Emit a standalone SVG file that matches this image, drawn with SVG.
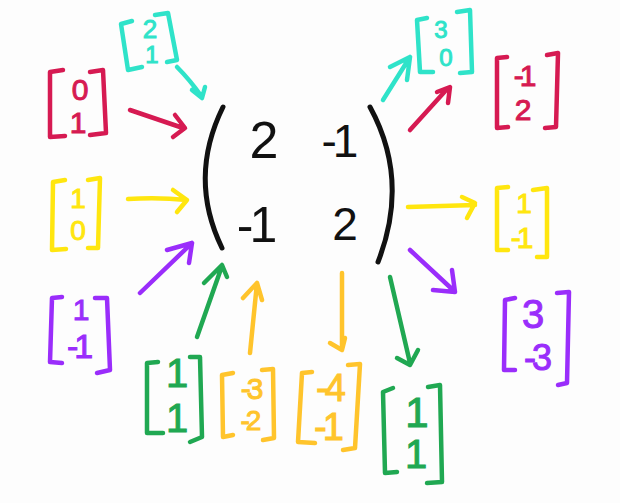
<svg xmlns="http://www.w3.org/2000/svg" width="620" height="503" viewBox="0 0 620 503">
<style>
path{fill:none;stroke-linecap:round;stroke-linejoin:round;stroke-width:4.5}
text{font-family:"Liberation Sans",Arial,sans-serif;text-anchor:middle;stroke:none}
.k path{stroke:#111;stroke-width:5}
.k text{fill:#111}
.cy{stroke:#2fe3c9}
.rd{stroke:#d61a52}
.ye{stroke:#ffe60f}
.pu{stroke:#9a2dfb}
.gr{stroke:#20a852}
.or{stroke:#ffc42c}
text.cy{fill:#2fe3c9}
text.rd{fill:#d61a52}
text.ye{fill:#ffe60f}
text.pu{fill:#9a2dfb}
text.gr{fill:#20a852}
text.or{fill:#ffc42c}
.neg{letter-spacing:-4px}
</style>
<rect width="620" height="503" fill="#fdfdfd"/>
<g id="matrix" class="k">
<path d="M223,107 Q188,178 222,248"/>
<path d="M370,107 Q410,180 378,262"/>
<text x="264" y="158" font-size="52">2</text>
<text x="338" y="157" font-size="46" class="neg">-1</text>
<text x="255" y="242" font-size="50" class="neg">-1</text>
<text x="345" y="240" font-size="46">2</text>
</g>
<g id="v-cyan-in">
<path class="cy" d="M132,21 L121,24 L128,70 L142,67"/>
<path class="cy" d="M155,15 L168,13 L177,60 L167,62"/>
<text class="cy" x="150" y="38" font-size="26">2</text>
<text class="cy" x="152" y="63" font-size="24">1</text>
</g>
<g id="v-red-in">
<path class="rd" d="M63,70 L50,72 L50,137 L65,136"/>
<path class="rd" d="M90,72 L103,70 L106,133 L90,135"/>
<text class="rd" x="80" y="100" font-size="30">0</text>
<text class="rd" x="78" y="133" font-size="30">1</text>
</g>
<g id="v-yellow-in">
<path class="ye" d="M65,180 L53,182 L52,250 L66,249"/>
<path class="ye" d="M88,180 L100,178 L98,248 L88,248"/>
<text class="ye" x="78" y="208" font-size="28">1</text>
<text class="ye" x="78" y="240" font-size="28">0</text>
</g>
<g id="v-purple-in">
<path class="pu" d="M62,297 L52,298 L50,362 L62,363"/>
<path class="pu" d="M95,298 L107,298 L110,370 L97,373"/>
<text class="pu" x="81" y="320" font-size="30">1</text>
<text class="pu neg" x="78" y="358" font-size="34">-1</text>
</g>
<g id="v-green-in">
<path class="gr" d="M158,362 L147,363 L147,433 L163,433"/>
<path class="gr" d="M190,357 L200,357 L202,437 L190,442"/>
<text class="gr" x="177" y="387" font-size="40">1</text>
<text class="gr" x="177" y="432" font-size="40">1</text>
</g>
<g id="v-orange-in">
<path class="or" d="M233,373 L222,375 L223,437 L233,435"/>
<path class="or" d="M262,370 L273,369 L274,438 L263,440"/>
<text class="or neg" x="250" y="399" font-size="30">-3</text>
<text class="or neg" x="249" y="430" font-size="28">-2</text>
</g>
<g id="v-orange-out">
<path class="or" d="M312,372 L302,373 L298,442 L315,443"/>
<path class="or" d="M348,365 L360,364 L355,448 L343,450"/>
<text class="or neg" x="329" y="401" font-size="38">-4</text>
<text class="or neg" x="327" y="440" font-size="38">-1</text>
</g>
<g id="v-green-out">
<path class="gr" d="M393,388 L383,392 L385,473 L397,472"/>
<path class="gr" d="M428,387 L440,385 L442,482 L427,483"/>
<text class="gr" x="417" y="427" font-size="42">1</text>
<text class="gr" x="416" y="468" font-size="40">1</text>
</g>
<g id="v-purple-out">
<path class="pu" d="M515,298 L505,300 L504,370 L515,370"/>
<path class="pu" d="M557,293 L569,292 L567,383 L558,385"/>
<text class="pu" x="533" y="328" font-size="40">3</text>
<text class="pu neg" x="536" y="370" font-size="36">-3</text>
</g>
<g id="v-yellow-out">
<path class="ye" d="M508,187 L497,188 L497,250 L508,250"/>
<path class="ye" d="M533,190 L547,188 L547,257 L537,257"/>
<text class="ye" x="524" y="213" font-size="28">1</text>
<text class="ye neg" x="520" y="248" font-size="30">-1</text>
</g>
<g id="v-red-out">
<path class="rd" d="M507,57 L497,58 L497,128 L508,127"/>
<path class="rd" d="M547,55 L558,53 L556,127 L545,128"/>
<text class="rd neg" x="523" y="86" font-size="30">-1</text>
<text class="rd" x="523" y="120" font-size="30">2</text>
</g>
<g id="v-cyan-out">
<path class="cy" d="M427,18 L417,20 L420,72 L433,72"/>
<path class="cy" d="M457,12 L470,10 L472,72 L460,73"/>
<text class="cy" x="441" y="38" font-size="24">3</text>
<text class="cy" x="446" y="66" font-size="24">0</text>
</g>
<g id="connectors">
<path class="cy" d="M177,67 Q190,80 202,97 M192,90 L202,98 L205,87"/>
<path class="rd" d="M130,110 L183,128 M175,115 L185,128 L173,137"/>
<path class="ye" d="M128,199 Q158,197 187,200 M173,190 L187,200 L177,212"/>
<path class="pu" d="M140,293 L192,243 M167,250 L192,243 L189,263"/>
<path class="gr" d="M197,337 L222,266 M204,283 L222,265 L227,277"/>
<path class="or" d="M250,353 L257,283 M243,298 L257,283 L262,300"/>
<path class="or" d="M342,273 L342,350 M330,343 L342,350 L345,338"/>
<path class="gr" d="M390,277 L410,363 M397,358 L410,365 L418,350"/>
<path class="pu" d="M410,250 L453,290 M433,290 L455,292 L452,270"/>
<path class="ye" d="M408,207 L475,205 M462,197 L475,203 L467,218"/>
<path class="rd" d="M410,130 L448,88 M437,92 L450,87 L448,103"/>
<path class="cy" d="M383,100 L410,57 M390,67 L410,57 L407,80"/>
</g>
</svg>
